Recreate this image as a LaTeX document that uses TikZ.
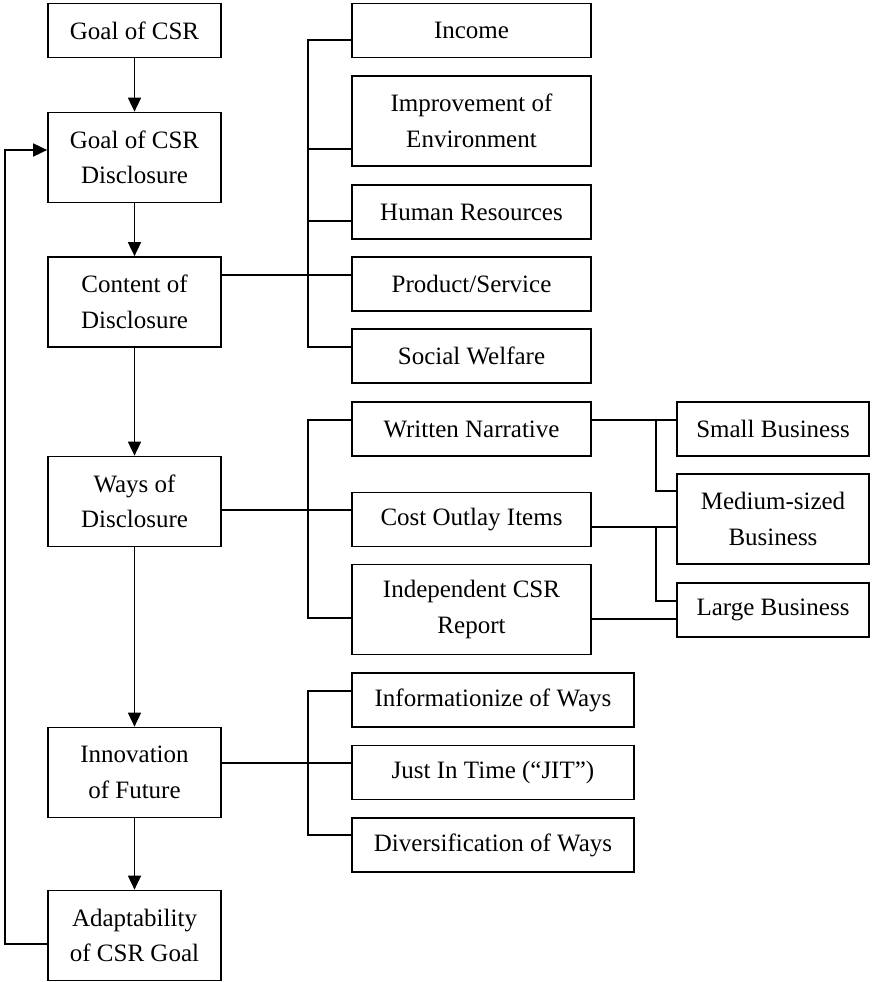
\documentclass[tikz,border=0pt]{standalone}
\usepackage{fontspec}
\setmainfont{Liberation Serif}
\usepackage{tikz}
\usetikzlibrary{arrows.meta}

\begin{document}
\begin{tikzpicture}[x=1pt, y=-1pt, line width=1.7pt, >={Triangle[length=14pt,width=13pt]},
  main/.style = {draw, rectangle, align=center, inner sep=0pt, minimum height=54pt, font=\fontsize{25}{35.5}\selectfont},
  tall/.style = {main, minimum height=90pt},
  colA/.style = {minimum width=173pt},
  colB/.style = {minimum width=239pt},
  colC/.style = {minimum width=282pt},
  colD/.style = {minimum width=192pt}]
\useasboundingbox (0,0) rectangle (871,982);
\node[main, colA] (1) at (134.5,30.5) {Goal of CSR};
\node[tall, colA] (2) at (134.5,157.5) {Goal of CSR\\Disclosure};
\node[tall, colA] (3) at (134.5,302) {Content of\\Disclosure};
\node[tall, colA] (4) at (134.5,501.5) {Ways of\\Disclosure};
\node[tall, colA] (5) at (134.5,772.5) {Innovation\\of Future};
\node[tall, colA] (6) at (134.5,935.5) {Adaptability\\of CSR Goal};
\node[main, colB] (7) at (471.5,30.5) {Income};
\node[tall, colB] (8) at (471.5,121) {Improvement of\\Environment};
\node[main, colB] (9) at (471.5,212) {Human Resources};
\node[main, colB] (10) at (471.5,284) {Product/Service};
\node[main, colB] (11) at (471.5,356) {Social Welfare};
\node[main, colB] (12) at (471.5,429) {Written Narrative};
\node[main, colB] (13) at (471.5,519.5) {Cost Outlay Items};
\node[tall, colB] (14) at (471.5,609.5) {Independent CSR\\Report};
\node[main, colD] (15) at (773,429) {Small Business};
\node[tall, colD] (16) at (773,519) {Medium-sized\\Business};
\node[main, colD] (17) at (773,610) {Large Business};
\node[main, colC] (18) at (493,700) {Informationize of Ways};
\node[main, colC] (19) at (493,772.5) {Just In Time (``JIT'')};
\node[main, colC] (20) at (493,845) {Diversification of Ways};
\draw[->] (1) -- (2);
\draw[->] (2) -- (3);
\draw[->] (3) -- (4);
\draw[->] (4) -- (5);
\draw[->] (5) -- (6);
\coordinate (fb) at (5,150);
\draw[->] (6.west |- 0,944) -| (fb) -- (2.west |- fb);
\coordinate (c) at (308,275);
\draw (3.east |- c) -- (c);
\foreach \n/\y in {7/40,8/149,9/221,10/275,11/347}
  \draw (c) |- (\n.west |- 0,\y);
\coordinate (w) at (308,510);
\draw (4.east |- w) -- (w);
\foreach \n/\y in {12/420,13/510,14/618}
  \draw (w) |- (\n.west |- 0,\y);
\coordinate (i) at (308,763);
\draw (5.east |- i) -- (i);
\foreach \n/\y in {18/691,19/763,20/835}
  \draw (i) |- (\n.west |- 0,\y);
\coordinate (b1) at (656,420);
\coordinate (b2) at (656,527);
\draw (12.east |- b1) -- (15.west |- b1);
\draw (b1) |- (16.west |- 0,491);
\draw (13.east |- b2) -- (16.west |- b2);
\draw (b2) |- (17.west |- 0,601);
\draw (14.east |- 0,619) -- (17.west |- 0,619);
\end{tikzpicture}
\end{document}
